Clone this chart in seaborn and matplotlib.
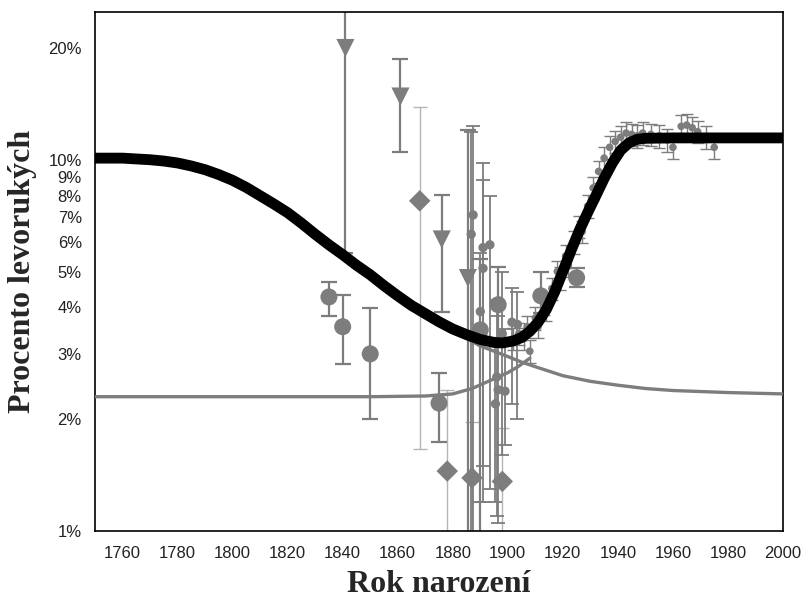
import matplotlib
matplotlib.use("Agg")
import matplotlib.pyplot as plt
import matplotlib.ticker as mticker
import numpy as np
import seaborn as sns

# fitted curve (black)
fit_years = [1750, 1755, 1760, 1765, 1770, 1775, 1780, 1785, 1790, 1795, 1800,
             1805, 1810, 1815, 1820, 1825, 1830, 1835, 1840, 1845, 1850, 1855,
             1860, 1865, 1870, 1875, 1880, 1885, 1890, 1895, 1898, 1902, 1905,
             1908, 1911, 1914, 1917, 1920, 1923, 1926, 1929, 1932, 1935, 1938,
             1941, 1944, 1947, 1950, 1960, 1980, 2000]
fit_pct = [10.1, 10.1, 10.1, 10.05, 10.0, 9.92, 9.8, 9.62, 9.4, 9.12, 8.8,
           8.42, 8.0, 7.6, 7.2, 6.75, 6.3, 5.9, 5.55, 5.2, 4.9, 4.58,
           4.3, 4.05, 3.85, 3.66, 3.5, 3.38, 3.28, 3.22, 3.21, 3.25, 3.32,
           3.45, 3.65, 3.95, 4.4, 5.0, 5.7, 6.45, 7.2, 8.0, 8.9, 9.8,
           10.6, 11.1, 11.35, 11.42, 11.45, 11.45, 11.45]

# grey curves
grey_a_years = [1750, 1800, 1850, 1870, 1880, 1887, 1895, 1900, 1904, 1908]
grey_a_pct = [2.30, 2.30, 2.30, 2.31, 2.34, 2.42, 2.57, 2.67, 2.78, 2.92]
grey_b_years = [1885, 1890, 1895, 1900, 1905, 1910, 1920, 1930, 1940, 1950, 1960, 1980, 2000]
grey_b_pct = [3.3, 3.15, 3.05, 2.95, 2.85, 2.77, 2.62, 2.53, 2.47, 2.42, 2.39, 2.36, 2.34]

# large circles
circ_year = [1835, 1840, 1850, 1875, 1890, 1896.5, 1912, 1925]
circ_pct = [4.27, 3.55, 3.0, 2.21, 3.48, 4.07, 4.3, 4.81]
circ_lo = [3.80, 2.82, 2.0, 1.74, 0.9, 3.3, 3.87, 4.55]
circ_hi = [4.69, 4.33, 3.99, 2.66, 5.4, 5.15, 4.98, 5.1]

# triangles
tri_year = [1841, 1861, 1876, 1885.5]
tri_pct = [20.0, 14.8, 6.1, 4.8]
tri_lo = [5.6, 10.5, 3.89, 0.9]
tri_hi = [30.0, 18.7, 8.05, 12.0]

# diamonds
dia_year = [1868, 1878, 1887, 1898]
dia_pct = [7.75, 1.45, 1.39, 1.36]
dia_lo = [1.66, 0.9, 0.9, 0.9]
dia_hi = [13.9, 2.4, 1.97, 1.9]

# small points around 1890-1900
cl_year = [1887.4, 1886.7, 1893.5, 1891, 1891, 1890, 1898, 1901.5, 1903.5,
           1896, 1896.5, 1899, 1895.5]
cl_pct = [7.1, 6.3, 5.9, 5.8, 5.1, 3.9, 3.4, 3.65, 3.6, 2.6, 2.4, 2.38, 2.2]
cl_lo = [0.9, 0.9, 1.3, 1.5, 1.2, 1.2, 1.6, 2.2, 2.0, 1.1, 1.05, 1.7, 1.2]
cl_hi = [12.3, 11.9, 8.0, 8.8, 9.8, 5.6, 5.0, 4.5, 4.4, 4.2, 3.8, 3.5, 3.2]

# small points along the rise and plateau
rise_year = [1902, 1904, 1906, 1907, 1908, 1910, 1911, 1913, 1914, 1916, 1918,
             1919, 1921, 1922, 1924, 1926, 1927, 1929, 1931, 1933, 1935, 1937,
             1939, 1941, 1943, 1945, 1947, 1949, 1952, 1955, 1958, 1960, 1963,
             1965, 1967, 1969, 1972, 1975]
rise_pct = [3.3, 3.4, 3.3, 3.55, 3.05, 3.75, 3.55, 4.1, 3.95, 4.5, 5.0,
            4.8, 5.5, 5.2, 6.0, 6.6, 6.4, 7.5, 8.4, 9.3, 10.1, 10.8,
            11.2, 11.5, 11.8, 11.7, 11.6, 11.8, 11.7, 11.6, 11.3, 10.8, 12.3,
            12.4, 12.2, 11.9, 11.5, 10.8]

GREY = "#7d7d7d"
LIGHT = "#b5b5b5"

sns.set_style("white")
plt.rcParams["font.family"] = ["Liberation Sans", "DejaVu Sans"]

fig = plt.figure(figsize=(8.06, 6.07), dpi=100)
ax = fig.add_axes([95 / 806, 1 - 531 / 607, (783 - 95) / 806, (531 - 12) / 607])


def bars(ax, x, y, lo, hi, color, lw, cap):
    y = np.array(y)
    err = [y - np.array(lo), np.array(hi) - y]
    ax.errorbar(x, y, yerr=err, fmt="none", ecolor=color, elinewidth=lw,
                capsize=cap, capthick=lw, zorder=2)


bars(ax, dia_year, dia_pct, dia_lo, dia_hi, LIGHT, 1.0, 5)
bars(ax, cl_year, cl_pct, cl_lo, cl_hi, GREY, 1.3, 5)
bars(ax, circ_year, circ_pct, circ_lo, circ_hi, GREY, 1.6, 6)
bars(ax, tri_year, tri_pct, tri_lo, tri_hi, GREY, 1.6, 6)
rise = np.array(rise_pct)
bars(ax, rise_year, rise, rise * 0.93, rise * 1.07, GREY, 1.0, 4)

sns.scatterplot(x=circ_year, y=circ_pct, ax=ax, s=150, marker="o", color=GREY,
                edgecolor="none", zorder=3)
sns.scatterplot(x=tri_year, y=tri_pct, ax=ax, s=170, marker="v", color=GREY,
                edgecolor="none", zorder=3)
sns.scatterplot(x=dia_year, y=dia_pct, ax=ax, s=120, marker="D", color=GREY,
                edgecolor="none", zorder=3)
sns.scatterplot(x=cl_year, y=cl_pct, ax=ax, s=45, marker="o", color=GREY,
                edgecolor="none", zorder=3)
sns.scatterplot(x=rise_year, y=rise_pct, ax=ax, s=30, marker="o", color=GREY,
                edgecolor="none", zorder=3)

sns.lineplot(x=grey_a_years, y=grey_a_pct, ax=ax, color=GREY, lw=2.4, zorder=4)
sns.lineplot(x=grey_b_years, y=grey_b_pct, ax=ax, color=GREY, lw=2.4, zorder=4)
sns.lineplot(x=fit_years, y=fit_pct, ax=ax, color="black", lw=7.8,
             solid_capstyle="round", solid_joinstyle="round", zorder=5)

ax.set_yscale("log")
ax.set_xlim(1750, 2000)
ax.set_ylim(1, 25)

yt = [1, 2, 3, 4, 5, 6, 7, 8, 9, 10, 20]
ax.yaxis.set_major_locator(mticker.FixedLocator(yt))
ax.yaxis.set_major_formatter(mticker.FixedFormatter([f"{v}%" for v in yt]))
ax.yaxis.set_minor_locator(mticker.NullLocator())
ax.xaxis.set_minor_locator(mticker.MultipleLocator(10))
ax.set_xticks(list(range(1760, 2001, 20)))

ax.tick_params(axis="both", which="both", direction="out", length=6, width=1,
               color="black", labelsize=12, labelcolor="#222222")
ax.tick_params(axis="x", which="major", pad=5)
for sp in ax.spines.values():
    sp.set_visible(True)
    sp.set_color("black")
    sp.set_linewidth(1.2)

ax.set_xlabel("Rok narození", fontsize=23, fontweight="bold",
              family="Liberation Serif", labelpad=6)
ax.set_ylabel("Procento levorukých", fontsize=23, fontweight="bold",
              family="Liberation Serif", labelpad=8)

fig.savefig("out.png", dpi=100)
plt.close(fig)
